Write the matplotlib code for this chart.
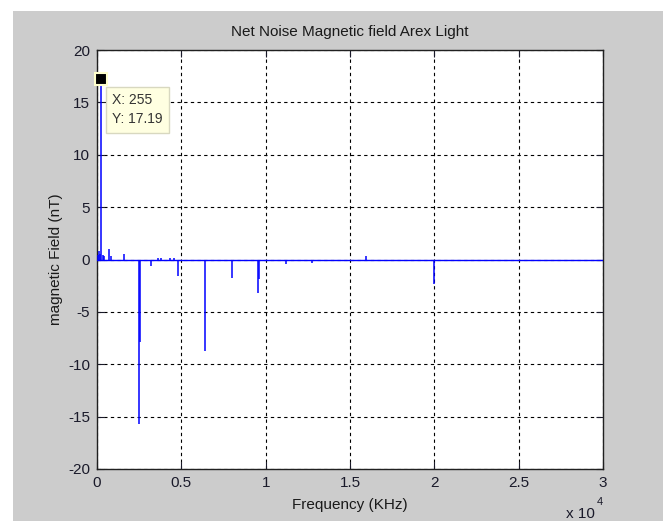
import numpy as np
import matplotlib
matplotlib.use("Agg")
import matplotlib.pyplot as plt
from matplotlib.patches import Rectangle

plt.rcParams['font.family'] = ['Liberation Sans', 'DejaVu Sans']
plt.rcParams['axes.unicode_minus'] = False

# spectrum span (Hz) and spike peaks
freq_span = [0, 30000]
peak_freq = [60, 120, 180, 255, 330, 420, 730, 850, 1620, 2490, 2520, 3180,
             3600, 3800, 4300, 4550, 4780, 6385, 7985, 9565, 9590, 11190,
             12770, 15950, 19980]
peak_val = [0.4, 0.8, 0.5, 17.19, 0.4, 0.3, 1.0, 0.3, 0.5, -15.7, -7.9, -0.6,
            0.15, 0.15, 0.15, 0.15, -1.6, -8.7, -1.8, -3.2, -1.9, -0.4,
            -0.3, 0.3, -2.3]

tip_x = 255
tip_y = 17.19

yticks = [-20, -15, -10, -5, 0, 5, 10, 15, 20]
xticks = [0, 5000, 10000, 15000, 20000, 25000, 30000]
xtick_labels = ['0', '0.5', '1', '1.5', '2', '2.5', '3']

W, H = 664, 521
fig = plt.figure(figsize=(W/100, H/100), dpi=100, facecolor='white')
fig.patches.append(Rectangle((13/W, 0), (663-13)/W, (H-11)/H,
                             transform=fig.transFigure, facecolor='#cccccc',
                             edgecolor='none', zorder=-10))

ax = fig.add_axes([97/W, (H-469)/H, (603-97)/W, (469-50)/H])
ax.set_facecolor('white')

ax.plot(freq_span, [0, 0], color='#0000ff', lw=1.0, zorder=3)
ax.vlines(peak_freq, 0, peak_val, color='#0000ff', lw=1.1, zorder=3)

ax.set_xlim(freq_span)
ax.set_ylim(-20, 20)
ax.set_xticks(xticks)
ax.set_xticklabels(xtick_labels)
ax.set_yticks(yticks)
ax.tick_params(direction='in', length=5, width=0.8, top=True, right=True,
               labelsize=11, colors='#1a1a2a', pad=5)
for s in ax.spines.values():
    s.set_linewidth(1.0)
    s.set_color('#202020')
ax.grid(True, color='black', linestyle=(0, (3, 3)), linewidth=0.8)
ax.set_axisbelow(True)

ax.set_title("Net Noise Magnetic field Arex Light", fontsize=11,
             color='#1a1a1a', pad=10)
ax.set_xlabel("Frequency (KHz)", fontsize=11, color='#1a1a1a', labelpad=6)
ax.set_ylabel("magnetic Field (nT)", fontsize=11, color='#1a1a1a', labelpad=4)

# exponent label
fig.text(566/W, (H-518)/H, "x 10", fontsize=11, color='#1a1a2a')
fig.text(597/W, (H-505)/H, "4", fontsize=8, color='#1a1a2a')

# data tip
ax.plot([tip_x], [tip_y], marker='s', ms=8.5, mfc='black', mec='#ffffcc',
        mew=1.5, zorder=6, clip_on=False)
ax.annotate("X: 255\nY: 17.19", xy=(tip_x, tip_y),
            xytext=(8, -10), textcoords='offset points', fontsize=10,
            color='#333333', va='top', ha='left', linespacing=1.45,
            bbox=dict(boxstyle='square,pad=0.45', fc='#ffffe1', ec='#d8d8c0',
                      lw=1), zorder=7)

fig.savefig("out.png", dpi=100, facecolor='white')
